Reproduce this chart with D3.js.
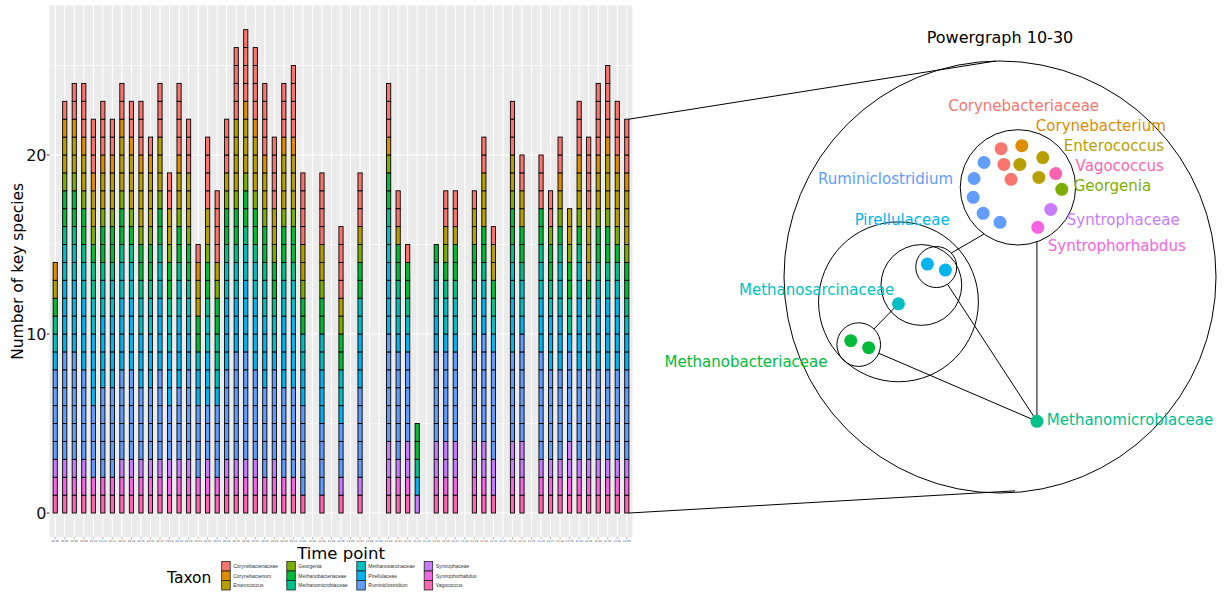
<!DOCTYPE html>
<html><head><meta charset="utf-8">
<script src="https://cdn.jsdelivr.net/npm/d3@7"></script>
<style>body{margin:0;background:#fff;} text{font-family:"DejaVu Sans",sans-serif;}</style>
</head><body><svg id="c" width="1226" height="592"></svg>
<script>
// ---------------- data ----------------
const taxa = ["Corynebacteriaceae","Corynebacterium","Enterococcus","Georgenia","Methanobacteriaceae","Methanomicrobiaceae","Methanosarcinaceae","Pirellulaceae","Ruminiclostridium","Syntrophaceae","Syntrophorhabdus","Vagococcus"];
const taxonColors = ["#F8766D","#DE8C00","#B79F00","#7CAE00","#00BA38","#00C08B","#00BFC4","#00B4F0","#619CFF","#C77CFF","#F564E3","#FF64B0"];
const timePoints = ["10-06","10-07","10-08","10-09","10-10","10-11","10-12","10-13","10-14","10-15","10-16","10-17","10-18","10-19","10-20","10-21","10-22","10-23","10-24","10-25","10-26","10-27","10-28","10-29","10-30","10-31","11-01","11-02","11-03","11-04","11-05","11-06","11-07","11-08","11-09","11-10","11-11","11-12","11-13","11-14","11-15","11-16","11-17","11-18","11-19","11-20","11-21","11-22","11-23","11-24","11-25","11-26","11-27","11-28","11-29","11-30","12-01","12-02","12-03","12-04","12-05"];
const yTicks = [0,10,20];
const corynebacteriaceae = [0,1,2,3,3,3,2,2,2,3, 1,3,2,4,3,1,4,4,3,4, 4,4,4,4,3,4,4,0,4,0, 4,0,3,0,0,3,2,1,0,0, 0,2,2,0,1,2,1,0,3,2, 0,3,2,2,0,3,4,4,4,3, 3];
const corynebacterium    = [1,1,1,1,1,1,1,1,1,1, 1,0,0,1,0,1,0,0,0,0, 1,1,1,0,1,1,0,0,0,0, 0,0,0,0,0,1,0,0,0,0, 0,0,0,0,0,0,0,0,0,0, 0,0,0,1,0,1,1,1,1,1, 1];
const enterococcus       = [1,2,2,2,2,2,2,3,3,3, 3,3,2,2,3,2,2,1,1,4, 3,3,2,2,3,3,2,0,2,0, 1,0,1,0,0,0,1,0,0,0, 0,1,1,0,2,3,2,0,2,2, 0,0,0,1,2,2,3,2,3,3, 3];
const georgenia          = [0,1,1,1,1,1,1,1,1,1, 1,1,1,1,1,0,1,1,1,1, 1,1,1,1,1,1,1,0,1,0, 1,0,1,0,0,1,0,0,0,0, 0,1,0,0,0,0,0,0,1,0, 0,0,1,1,1,1,0,1,1,1, 1];
const methanobacteriaceae= [1,2,2,2,1,2,2,2,1,2, 2,2,2,2,2,2,2,2,2,2, 2,2,2,2,2,2,2,0,2,0, 2,0,2,0,0,2,2,2,2,0, 1,1,2,0,2,2,1,0,2,2, 0,2,2,1,2,1,1,2,2,1, 2];
const methanomicrobiaceae= [1,1,1,1,2,1,1,1,1,1, 1,1,1,1,1,0,1,2,1,1, 1,1,1,1,1,1,0,0,0,0, 0,0,0,0,0,1,1,1,1,0, 1,1,1,0,1,1,1,0,1,1, 0,1,1,1,2,1,1,1,1,1, 1];
const methanosarcinaceae = [1,2,2,2,2,2,2,2,2,2, 2,2,2,2,2,1,2,1,2,2, 2,2,2,2,2,2,2,0,2,0, 2,0,2,0,0,2,2,1,0,0, 2,2,2,0,2,1,1,0,2,2, 0,2,1,3,0,2,1,1,1,1, 1];
const pirellulaceae      = [1,4,4,4,4,4,4,4,4,3, 3,4,3,4,2,2,3,1,4,3, 4,4,4,1,4,4,2,0,3,0, 1,0,3,0,0,4,1,1,1,0, 2,1,1,0,1,2,1,0,3,1, 0,3,3,3,1,4,2,4,4,4, 2];
const ruminiclostridium  = [5,6,6,5,4,5,5,5,5,4, 4,5,3,4,5,4,3,4,5,6, 6,5,5,5,5,5,5,0,4,0, 3,0,5,0,0,6,6,5,0,0, 5,5,5,0,5,6,6,0,5,6, 0,6,5,5,5,5,5,5,5,5, 5];
const syntrophaceae      = [1,1,1,1,0,0,0,1,1,1, 1,1,1,1,1,0,1,0,1,1, 1,1,0,1,0,0,0,0,0,0, 1,0,1,0,0,2,1,2,1,0, 2,2,2,0,2,2,2,0,2,2, 0,1,1,1,2,1,1,1,1,1, 1];
const syntrophorhabdus   = [1,1,1,1,1,1,1,1,1,1, 1,1,1,1,1,1,1,1,1,1, 1,1,1,1,1,1,0,0,0,0, 0,0,0,0,0,1,1,1,0,0, 1,1,1,0,1,1,0,0,1,1, 0,1,1,1,1,1,1,1,1,1, 1];
const vagococcus         = [1,1,1,1,1,1,1,1,1,1, 1,1,1,1,1,1,1,1,1,1, 1,1,1,1,1,1,1,0,1,0, 1,0,1,0,0,1,1,1,0,0, 1,1,1,0,1,1,1,0,1,1, 0,1,1,1,1,1,1,1,1,1, 1];
const seriesValues = [corynebacteriaceae,corynebacterium,enterococcus,georgenia,methanobacteriaceae,methanomicrobiaceae,methanosarcinaceae,pirellulaceae,ruminiclostridium,syntrophaceae,syntrophorhabdus,vagococcus];

// power graph (layout units: big circle centred at 0,0 with radius 1)
const graphTitle = "Powergraph 10-30";
const graphNodes = [
  {taxon:"Corynebacteriaceae", x:0.005, y:-0.594},{taxon:"Corynebacteriaceae", x:0.018, y:-0.521},{taxon:"Corynebacteriaceae", x:0.051, y:-0.452},
  {taxon:"Corynebacterium", x:0.101, y:-0.608},
  {taxon:"Enterococcus", x:0.092, y:-0.521},{taxon:"Enterococcus", x:0.198, y:-0.553},{taxon:"Enterococcus", x:0.180, y:-0.461},
  {taxon:"Vagococcus", x:0.258, y:-0.479},
  {taxon:"Georgenia", x:0.286, y:-0.406},
  {taxon:"Syntrophaceae", x:0.235, y:-0.313},
  {taxon:"Syntrophorhabdus", x:0.175, y:-0.230},
  {taxon:"Ruminiclostridium", x:-0.074, y:-0.530},{taxon:"Ruminiclostridium", x:-0.120, y:-0.456},{taxon:"Ruminiclostridium", x:-0.124, y:-0.369},{taxon:"Ruminiclostridium", x:-0.078, y:-0.295},{taxon:"Ruminiclostridium", x:0.000, y:-0.253},
  {taxon:"Pirellulaceae", x:-0.336, y:-0.060},{taxon:"Pirellulaceae", x:-0.253, y:-0.032},
  {taxon:"Methanosarcinaceae", x:-0.470, y:0.124},
  {taxon:"Methanobacteriaceae", x:-0.691, y:0.295},{taxon:"Methanobacteriaceae", x:-0.608, y:0.327},
  {taxon:"Methanomicrobiaceae", x:0.171, y:0.668}
];
const powerNodes = [
  {id:"all", x:0, y:0, r:1},
  {id:"cluster", x:0.083, y:-0.415, r:0.267},
  {id:"left", x:-0.470, y:0.115, r:0.370},
  {id:"middle", x:-0.364, y:0.037, r:0.187},
  {id:"pir", x:-0.295, y:-0.046, r:0.095},
  {id:"mbact", x:-0.654, y:0.313, r:0.101},
  {id:"mmicro", x:0.171, y:0.668, r:0, hidden:true},
  {id:"msarc", x:-0.470, y:0.124, r:0, hidden:true}
];
// anchor angles in degrees (null = along the centre line); "vertical" = straight up/down
const powerEdges = [
  {source:"pir", target:"cluster", sourceAngle:-43, targetAngle:126},
  {source:"pir", target:"mmicro"},
  {source:"mmicro", target:"cluster", vertical:true},
  {source:"mbact", target:"mmicro"},
  {source:"msarc", target:"mbact"}
];
const graphLabels = [
  {taxon:"Corynebacteriaceae", x:-0.240, y:-0.793},
  {taxon:"Corynebacterium", x:0.166, y:-0.700},
  {taxon:"Enterococcus", x:0.295, y:-0.608},
  {taxon:"Vagococcus", x:0.350, y:-0.516},
  {taxon:"Georgenia", x:0.341, y:-0.424},
  {taxon:"Ruminiclostridium", x:-0.843, y:-0.456},
  {taxon:"Syntrophaceae", x:0.309, y:-0.263},
  {taxon:"Syntrophorhabdus", x:0.221, y:-0.143},
  {taxon:"Pirellulaceae", x:-0.673, y:-0.263},
  {taxon:"Methanosarcinaceae", x:-1.208, y:0.060},
  {taxon:"Methanobacteriaceae", x:-1.553, y:0.392},
  {taxon:"Methanomicrobiaceae", x:0.217, y:0.663}
];

// ---------------- chart ----------------
const svg = d3.select("#c");
const color = d3.scaleOrdinal().domain(taxa).range(taxonColors);
const panel = {left:49.5, right:632.5, top:5.5, bottom:537.2};
const n = timePoints.length;
const step = (panel.right - panel.left) / (n - 1 + 1.2);
const x = d3.scalePoint().domain(timePoints).range([panel.left + 0.6*step, panel.right - 0.6*step]);
const y = d3.scaleLinear().domain([-1.35, 28.35]).range([panel.bottom, panel.top]);

svg.append("rect").attr("x",panel.left).attr("y",panel.top)
  .attr("width",panel.right-panel.left).attr("height",panel.bottom-panel.top).attr("fill","#EBEBEB");
const grid = svg.append("g");
[5,15,25].forEach(v=>grid.append("line").attr("x1",panel.left).attr("x2",panel.right)
  .attr("y1",y(v)).attr("y2",y(v)).attr("stroke","#fff").attr("stroke-width",0.55));
yTicks.forEach(v=>grid.append("line").attr("x1",panel.left).attr("x2",panel.right)
  .attr("y1",y(v)).attr("y2",y(v)).attr("stroke","#fff").attr("stroke-width",1.07));
timePoints.forEach(t=>grid.append("line").attr("x1",x(t)).attr("x2",x(t))
  .attr("y1",panel.top).attr("y2",panel.bottom).attr("stroke","#fff").attr("stroke-width",1.07));

// stacked bars, one cell per key species
const rows = timePoints.map((t,i)=>{const r={tp:t}; taxa.forEach((k,j)=>r[k]=seriesValues[j][i]); return r;});
const stack = d3.stack().keys(taxa.slice().reverse());
const layers = stack(rows);
const bw = step*0.44;
const bars = svg.append("g");
layers.forEach(layer=>{
  layer.forEach(d=>{
    for(let k=d[0]; k<d[1]; k++){
      bars.append("rect").attr("x",x(d.data.tp)-bw/2).attr("width",bw)
        .attr("y",y(k+1)).attr("height",y(k)-y(k+1))
        .attr("fill",color(layer.key)).attr("stroke","#000").attr("stroke-width",0.9);
    }
  });
});

// axes
const yAxis = svg.append("g");
yTicks.forEach(v=>{
  yAxis.append("line").attr("x1",panel.left-2.7).attr("x2",panel.left).attr("y1",y(v)).attr("y2",y(v)).attr("stroke","#333").attr("stroke-width",1);
  yAxis.append("text").attr("x",panel.left-3).attr("y",y(v)).attr("dy","0.36em").attr("text-anchor","end")
    .attr("font-size",16).attr("fill","#111").text(v);
});
const xAxis = svg.append("g");
timePoints.forEach(t=>{
  xAxis.append("line").attr("x1",x(t)).attr("x2",x(t)).attr("y1",panel.bottom).attr("y2",panel.bottom+2).attr("stroke","#555").attr("stroke-width",0.5);
  xAxis.append("text").attr("x",x(t)).attr("y",panel.bottom+4.5).attr("text-anchor","middle")
    .attr("font-size",2.6).attr("fill","#444").text(t);
});
svg.append("text").attr("x",(panel.left+panel.right)/2).attr("y",559).attr("text-anchor","middle")
  .attr("font-size",16.5).attr("fill","#000").text("Time point");
svg.append("text").attr("transform",`translate(23,${(panel.top+panel.bottom)/2}) rotate(-90)`)
  .attr("text-anchor","middle").attr("font-size",15.5).attr("fill","#000").text("Number of key species");

// legend
const lg = svg.append("g");
lg.append("text").attr("x",167).attr("y",583).attr("font-size",15.5).attr("fill","#000").text("Taxon");
const colX = [221.7, 286.8, 356.8, 424.2];
taxa.forEach((t,i)=>{
  const c = Math.floor(i/3), r = i%3;
  const ky = 561.5 + r*9.5;
  lg.append("rect").attr("x",colX[c]).attr("y",ky).attr("width",8.5).attr("height",9.5)
    .attr("fill",color(t)).attr("stroke","#222").attr("stroke-width",0.8);
  lg.append("text").attr("x",colX[c]+11.5).attr("y",ky+4.75).attr("dy","0.35em")
    .attr("font-size",5).attr("fill","#333").style("font-family","Liberation Sans, Arial, sans-serif").text(t);
});

// ---------------- power graph ----------------
const G = {cx:1000, cy:277, R:216};
const gx = d3.scaleLinear().domain([-1,1]).range([G.cx-G.R, G.cx+G.R]);
const gy = d3.scaleLinear().domain([-1,1]).range([G.cy-G.R, G.cy+G.R]);
const gr = d3.scaleLinear().domain([0,1]).range([0,G.R]);
const pg = svg.append("g");
pg.append("text").attr("x",gx(0)).attr("y",gy(-1)-18).attr("text-anchor","middle").attr("font-size",16).attr("fill","#000").text(graphTitle);

// connector lines from the last bar to the big circle
const lastTp = timePoints[n-1];
const lastTotal = d3.sum(seriesValues, s=>s[n-1]);
pg.append("line").attr("x1",x(lastTp)+bw/2).attr("y1",y(lastTotal)).attr("x2",gx(-0.02)).attr("y2",gy(-1)).attr("stroke","#000").attr("stroke-width",1);
pg.append("line").attr("x1",x(lastTp)+bw/2).attr("y1",y(0)).attr("x2",gx(0.07)).attr("y2",gy(0.99)).attr("stroke","#000").attr("stroke-width",1);

powerNodes.filter(p=>!p.hidden).forEach(p=>pg.append("circle").attr("cx",gx(p.x)).attr("cy",gy(p.y)).attr("r",gr(p.r))
  .attr("fill","none").attr("stroke","#000").attr("stroke-width",1));

const pn = new Map(powerNodes.map(p=>[p.id,p]));
powerEdges.forEach(e=>{
  const A=pn.get(e.source), B=pn.get(e.target);
  let p1, p2;
  if(e.vertical){
    const dx = A.x - B.x;
    p1 = {x:A.x, y:A.y - Math.sign(A.y-B.y)*0 };
    p2 = {x:A.x, y:B.y + Math.sign(A.y-B.y)*Math.sqrt(B.r*B.r - dx*dx)};
  } else {
    const dx=B.x-A.x, dy=B.y-A.y, L=Math.hypot(dx,dy), ux=dx/L, uy=dy/L;
    p1 = e.sourceAngle!=null ? {x:A.x+A.r*Math.cos(e.sourceAngle*Math.PI/180), y:A.y+A.r*Math.sin(e.sourceAngle*Math.PI/180)} : {x:A.x+ux*A.r, y:A.y+uy*A.r};
    p2 = e.targetAngle!=null ? {x:B.x+B.r*Math.cos(e.targetAngle*Math.PI/180), y:B.y+B.r*Math.sin(e.targetAngle*Math.PI/180)} : {x:B.x-ux*B.r, y:B.y-uy*B.r};
  }
  pg.append("line").attr("x1",gx(p1.x)).attr("y1",gy(p1.y)).attr("x2",gx(p2.x)).attr("y2",gy(p2.y))
    .attr("stroke","#000").attr("stroke-width",1);
});

graphNodes.forEach(d=>pg.append("circle").attr("cx",gx(d.x)).attr("cy",gy(d.y)).attr("r",6.5).attr("fill",color(d.taxon)));
graphLabels.forEach(d=>pg.append("text").attr("x",gx(d.x)).attr("y",gy(d.y)).attr("dy","0.35em")
  .attr("font-size",15).attr("fill",color(d.taxon)).text(d.taxon));
</script></body></html>
